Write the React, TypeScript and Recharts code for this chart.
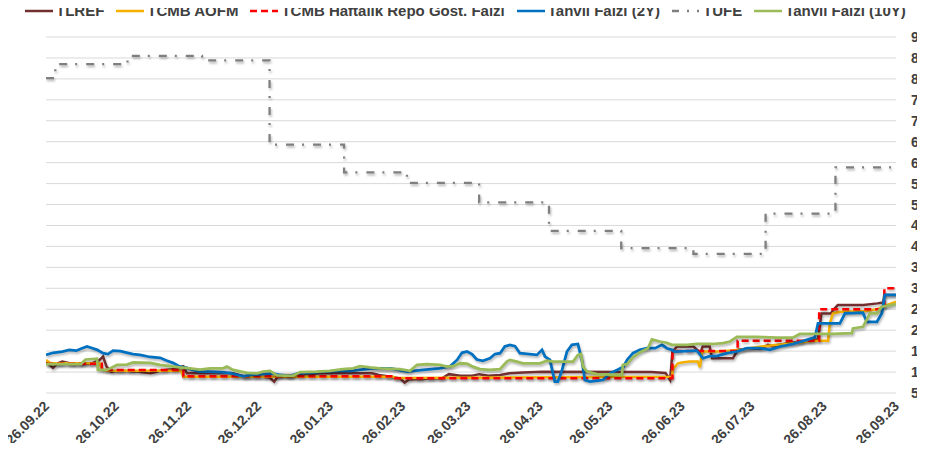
import React from "react";
import { LineChart, Line, XAxis, YAxis, CartesianGrid } from "recharts";

// x = days since 26.09.22
const tickDays = [0, 30, 61, 91, 122, 153, 181, 212, 242, 273, 303, 334, 365];
const tickLabels = [
  "26.09.22", "26.10.22", "26.11.22", "26.12.22", "26.01.23", "26.02.23", "26.03.23",
  "26.04.23", "26.05.23", "26.06.23", "26.07.23", "26.08.23", "26.09.23",
];
const yTicks = [5, 10, 15, 20, 25, 30, 35, 40, 45, 50, 55, 60, 65, 70, 75, 80, 85, 90];

const tlref: [number, number][] = [
  [0, 12.5], [3, 11.0], [5, 12.1], [7, 12.5], [12, 11.9], [19, 11.9], [23, 12.9], [24.5, 13.7],
  [26, 11.3], [28, 10.1], [33, 10.3], [40, 10.1], [45, 9.7], [49, 10.3], [54, 10.7], [59, 11.4],
  [60.5, 9.7], [66, 9.8], [72, 9.7], [80, 9.7], [86, 8.9], [93, 8.9], [96, 8.7], [98, 7.7],
  [100, 9.3], [106, 9.3], [118, 9.7], [140, 9.7], [143, 9.3], [148, 8.9], [152, 8.5], [154, 7.5],
  [156, 8.3], [161, 8.3], [166, 8.5], [170, 8.5], [173, 9.5], [178, 9.1], [183, 9.1], [186, 9.5],
  [190, 9.1], [195, 9.3], [199, 9.7], [205, 9.9], [213, 10.1], [260, 10.0], [266, 9.8], [268, 8.1],
  [269, 14.9], [271, 16.1], [278, 16.1], [281, 14.6], [282, 16.1], [285, 16.1], [286, 13.3],
  [295, 13.3], [297, 15.3], [302, 15.7], [307, 15.5], [310, 16.5], [312, 16.1], [318, 16.9],
  [324, 17.3], [329, 17.8], [331.5, 17.8], [333, 24], [337, 24], [338, 24.8], [340, 26],
  [351, 26], [357, 26.4], [359.5, 26.6], [360, 28.4], [365, 28.4],
];

const aofm: [number, number][] = [
  [0, 12.9], [2, 12.1], [23, 12.1], [24, 10.7], [26, 10.3], [58, 10.3], [59, 8.9], [149, 8.9],
  [150, 8.6], [268.8, 8.9], [269.2, 10.7], [271.4, 12.1], [273, 12.3], [276.5, 12.5], [279.9, 12.5],
  [280.8, 11.1], [281.7, 14.9], [289, 14.9], [298, 15.3], [302, 15.7], [307, 16.1], [314, 16.5],
  [321, 16.9], [327, 17.3], [331, 17.5], [335.8, 17.5], [336.6, 21.6], [337.9, 24], [341, 24.4],
  [352, 24.6], [357, 25], [361, 26], [365, 26.8],
];

const repo: [number, number][] = [
  [0, 12], [24, 10.5], [59, 9], [150, 8.5], [269, 15], [297, 17.5], [332, 25], [360, 30], [365, 30],
];

const bond2y: [number, number][] = [
  [0, 14.1], [3, 14.6], [7, 14.9], [10, 15.3], [13, 15.1], [15.5, 15.7], [17.6, 16.1], [20, 15.7],
  [22, 15.3], [24.5, 14.5], [26.6, 14.3], [28.8, 15.1], [32, 15], [35, 14.6], [37.4, 14.3],
  [40.4, 14.1], [44.7, 13.6], [49, 13.4], [52, 12.7], [54.5, 12.2], [57.5, 11.3], [60.5, 11],
  [63, 10.5], [66, 10.1], [70, 10.1], [75, 10], [79, 9.8], [84.6, 9.0], [88, 9.3], [97.5, 9.7],
  [100.5, 9.3], [105, 9.1], [108, 9.7], [113, 9.8], [119, 10.1], [126, 10.3], [131, 10.3],
  [140, 10.9], [148, 10.9], [155, 10.1], [162, 10.5], [169, 10.9], [173.5, 11.4], [176.5, 12.9],
  [178.6, 14.6], [180.8, 14.9], [182.9, 14.3], [185, 13], [187.6, 12.7], [190.6, 13.3],
  [192.8, 14.3], [195, 14.5], [197, 16.1], [199.2, 16.5], [201.4, 16.2], [203.5, 14.5],
  [210.8, 14.1], [213, 15.3], [214.3, 13.7], [216.4, 12.9], [218.5, 7.7], [219.8, 7.7],
  [221.6, 10.5], [223.7, 14.9], [225.8, 16.5], [228.4, 16.7], [230.1, 12.9], [231.4, 8.1],
  [233.6, 7.7], [239.2, 8.1], [242.2, 9.7], [245.2, 10.5], [248, 11.3], [249.5, 12.9], [252, 14.5],
  [255, 15.3], [258, 15.7], [261.5, 15.7], [264.5, 16.5], [266.6, 15.7], [268.8, 15.3], [270, 14.9],
  [279.5, 15.1], [282.1, 13.3], [285, 13.8], [288, 13.8], [292.4, 14.5], [296.7, 14.9], [301, 15.7],
  [306.6, 15.7], [310.9, 15.3], [315.2, 16.1], [320.7, 16.7], [326.7, 17.7], [330.2, 18.3],
  [331.5, 21.6], [340.9, 21.6], [343.1, 24], [350.8, 24.2], [352.5, 22], [356.8, 22], [358.9, 24],
  [360.2, 28.4], [365, 28.4],
];

const tufe: [number, number][] = [
  [0, 80.2], [4, 83.5], [35, 85.5], [67, 84.4], [96, 64.3], [128, 57.7], [155, 55.2], [186, 50.5],
  [216, 43.7], [247, 39.6], [278, 38.2], [309, 47.8], [339, 58.9], [365, 58.9],
];

const bond10y: [number, number][] = [
  [0, 11.9], [15, 11.9], [17, 13], [21.9, 13.2], [22.3, 10.5], [26.2, 10.5], [30.5, 11.7],
  [34.8, 11.8], [37.4, 12.3], [44.7, 12.2], [48.9, 11.7], [57.5, 11.1], [61.8, 10.9], [66.1, 10.6],
  [70.4, 10.9], [76, 10.9], [77.7, 11.3], [80.3, 10.5], [86.3, 9.8], [90.6, 9.7], [93.2, 10.1],
  [96.2, 10.3], [99.2, 9.2], [106, 9.1], [109.1, 10], [116.4, 10.1], [121.9, 10.3], [127.5, 10.7],
  [131.8, 10.9], [134.8, 11.4], [139.1, 11.1], [143.4, 10.9], [152, 10.7], [156.3, 10.3],
  [159.3, 11.7], [163.6, 11.9], [169.2, 11.7], [172.2, 11.3], [174.8, 11.4], [177.8, 12.1],
  [180.8, 12], [183.3, 11.3], [186.3, 10.7], [190.6, 10.5], [194.9, 10.7], [197.9, 12.5],
  [199.2, 12.9], [202.2, 12.5], [204.8, 12.1], [212.1, 12.1], [215.1, 12.7], [217.7, 12.5],
  [226.3, 12.5], [228.4, 14.1], [229.7, 14.3], [230.6, 11.3], [232.3, 10.1], [236.6, 9.5],
  [247.3, 9.3], [247.7, 11.7], [249.5, 11.9], [252, 13.5], [255, 14.7], [258.5, 15.7], [260.2, 17.8],
  [263.6, 17.3], [266.6, 17], [268.8, 16.5], [275.2, 16.5], [279.5, 16.7], [286.4, 16.7],
  [290.7, 16.9], [293.7, 17.3], [296.7, 18.4], [305.3, 18.4], [313.9, 18.2], [320.7, 18.2],
  [323.7, 19.1], [337.9, 19.1], [346.1, 19.3], [346.5, 20.4], [350.8, 20.8], [352.5, 22.6],
  [353.8, 24], [356.8, 24], [358.9, 25.6], [365, 26.2],
];

const toRows = (s: [number, number][]) => s.map(([d, v]) => ({ d, v }));

const series = [
  { name: "TLREF", data: tlref, color: "#722F2F", width: 2.5, dash: undefined as string | undefined, type: "linear" },
  { name: "TCMB AOFM", data: aofm, color: "#F5B000", width: 2.5, dash: undefined, type: "linear" },
  { name: "TCMB Haftalık Repo Göst. Faizi", data: repo, color: "#FF0000", width: 2.5, dash: "7 4", type: "stepAfter" },
  { name: "Tahvil Faizi (2Y)", data: bond2y, color: "#0070C0", width: 2.75, dash: undefined, type: "linear" },
  { name: "TÜFE", data: tufe, color: "#7F7F7F", width: 2.25, dash: "8 8 2 9", type: "stepAfter" },
  { name: "Tahvil Faizi (10Y)", data: bond10y, color: "#9BBB59", width: 2.75, dash: undefined, type: "linear" },
];

const FONT = "'Liberation Sans', Arial, sans-serif";
const TEXT = "#404040";

const XTick = (props: any) => {
  const { x, y, payload } = props;
  const i = tickDays.indexOf(payload.value);
  return (
    <g transform={`translate(${x + 4},${y + 12})`}>
      <text x={0} y={0} textAnchor="end" transform="rotate(-45)" fontSize={14} fontWeight="bold" fill={TEXT} fontFamily={FONT}>
        {tickLabels[i]}
      </text>
    </g>
  );
};

const YTick = (props: any) => {
  const { x, y, payload } = props;
  return (
    <text x={x} y={y} dy={5} textAnchor="start" fontSize={14} fontWeight="bold" fill={TEXT} fontFamily={FONT}>
      {payload.value}
    </text>
  );
};

const LegendIcon = ({ color, dash }: { color: string; dash?: string }) => (
  <svg width={28} height={10} style={{ display: "block" }}>
    <line x1={0} y1={5} x2={28} y2={5} stroke={color} strokeWidth={2.5} strokeDasharray={dash} />
  </svg>
);

export default function App() {
  return (
    <div
      style={{
        position: "relative",
        margin: -8,
        width: 925,
        height: 451,
        overflow: "hidden",
        background: "#fff",
        fontFamily: FONT,
      }}
    >
      <style>{`.recharts-line-curve { filter: drop-shadow(1px 2px 1.2px rgba(0,0,0,0.28)); }`}</style>
      <div style={{ position: "absolute", left: 0, top: 0, width: 3, height: 451, background: "#D5DCE4" }} />
      <div style={{ position: "absolute", left: 25, top: 2, display: "flex", alignItems: "center", whiteSpace: "nowrap" }}>
        {series.map((s) => (
          <div key={s.name} style={{ display: "flex", alignItems: "center", marginRight: 12 }}>
            <LegendIcon color={s.color} dash={s.name === "TÜFE" ? "7 8 2 8 2 20" : s.dash} />
            <span style={{ marginLeft: 3, fontSize: 15, fontWeight: "bold", color: TEXT, lineHeight: "18px" }}>{s.name}</span>
          </div>
        ))}
      </div>
      <div style={{ position: "absolute", left: 0, top: 0 }}>
        <LineChart width={940} height={451} margin={{ top: 37, right: 0, bottom: 0, left: 46 }}>
          <CartesianGrid horizontal vertical={false} stroke="#D9D9D9" />
          <XAxis
            dataKey="d"
            type="number"
            domain={[0, 365]}
            ticks={tickDays}
            interval={0}
            axisLine={false}
            tickLine={false}
            tickSize={0}
            tickMargin={2}
            height={58}
            tick={<XTick />}
            allowDataOverflow
          />
          <YAxis
            orientation="right"
            domain={[5, 90]}
            ticks={yTicks}
            interval={0}
            axisLine={false}
            tickLine={false}
            tickSize={0}
            tickMargin={15}
            width={44}
            tick={<YTick />}
          />
          {series.map((s) => (
            <Line
              key={s.name}
              data={toRows(s.data)}
              dataKey="v"
              name={s.name}
              type={s.type as any}
              stroke={s.color}
              strokeWidth={s.width}
              strokeDasharray={s.dash}
              dot={false}
              activeDot={false}
              isAnimationActive={false}
            />
          ))}
        </LineChart>
      </div>
    </div>
  );
}
